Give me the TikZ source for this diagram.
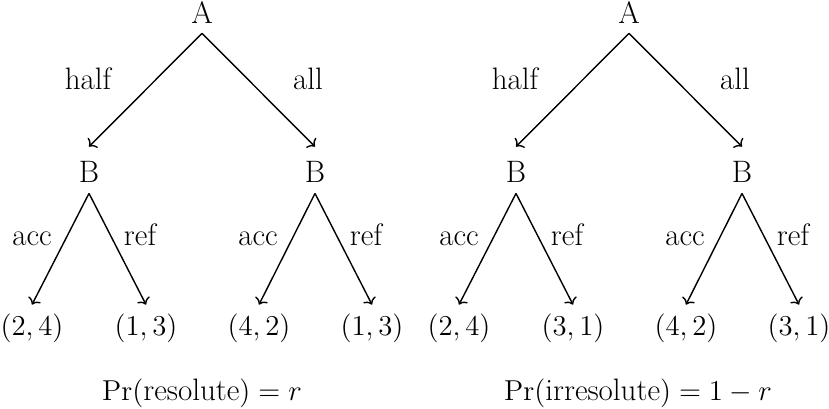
\documentclass[tikz,border=0pt]{standalone}
\usetikzlibrary{arrows.meta}
\begin{document}
\begin{tikzpicture}[x=0.5pt,y=-0.5pt,font=\fontsize{15.5}{18}\selectfont,
  topnode/.style={anchor=base,inner sep=0pt,text depth=5pt},
  midnode/.style={anchor=base,inner sep=0pt,text height=17.5pt,text depth=5.5pt},
  leafnode/.style={anchor=base,inner sep=0pt,text height=15pt},
  lbl/.style={anchor=base,inner sep=0pt},
  captext/.style={anchor=base,inner sep=0pt},
  arr/.style={-{To[length=3pt,width=7pt]},line width=0.7pt}]
\useasboundingbox (0,0) rectangle (829,408);
% left tree
\node[topnode] (A1) at (202,23) {A};
\node[midnode] (B11) at (89,182) {B};
\node[midnode] (B12) at (315,182) {B};
\node[leafnode] (L11) at (32,335) {$(2,4)$};
\node[leafnode] (L12) at (146,335) {$(1,3)$};
\node[leafnode] (L13) at (259,335) {$(4,2)$};
\node[leafnode] (L14) at (372,335) {$(1,3)$};
\draw[arr] (A1.south) -- (B11.north);
\draw[arr] (A1.south) -- (B12.north);
\draw[arr] (B11.south) -- (L11.north);
\draw[arr] (B11.south) -- (L12.north);
\draw[arr] (B12.south) -- (L13.north);
\draw[arr] (B12.south) -- (L14.north);
\node[lbl] (h1) at (88,89) {half};
\node[lbl] (a1) at (308,89) {all};
\node[lbl] (c11) at (32,245) {acc};
\node[lbl] (r11) at (140,245) {ref};
\node[lbl] (c12) at (258,245) {acc};
\node[lbl] (r12) at (366,245) {ref};
\node[captext] (P1) at (202,400) {$\Pr(\mbox{resolute}) = r$};
% right tree
\node[topnode] (A2) at (629,23) {A};
\node[midnode] (B21) at (516,182) {B};
\node[midnode] (B22) at (742,182) {B};
\node[leafnode] (L21) at (459,335) {$(2,4)$};
\node[leafnode] (L22) at (573,335) {$(3,1)$};
\node[leafnode] (L23) at (686,335) {$(4,2)$};
\node[leafnode] (L24) at (799,335) {$(3,1)$};
\draw[arr] (A2.south) -- (B21.north);
\draw[arr] (A2.south) -- (B22.north);
\draw[arr] (B21.south) -- (L21.north);
\draw[arr] (B21.south) -- (L22.north);
\draw[arr] (B22.south) -- (L23.north);
\draw[arr] (B22.south) -- (L24.north);
\node[lbl] (h2) at (515,89) {half};
\node[lbl] (a2) at (735,89) {all};
\node[lbl] (c21) at (459,245) {acc};
\node[lbl] (r21) at (567,245) {ref};
\node[lbl] (c22) at (685,245) {acc};
\node[lbl] (r22) at (793,245) {ref};
\node[captext] (P2) at (638,400) {$\Pr(\mbox{irresolute}) = 1 - r$};
\end{tikzpicture}
\end{document}
